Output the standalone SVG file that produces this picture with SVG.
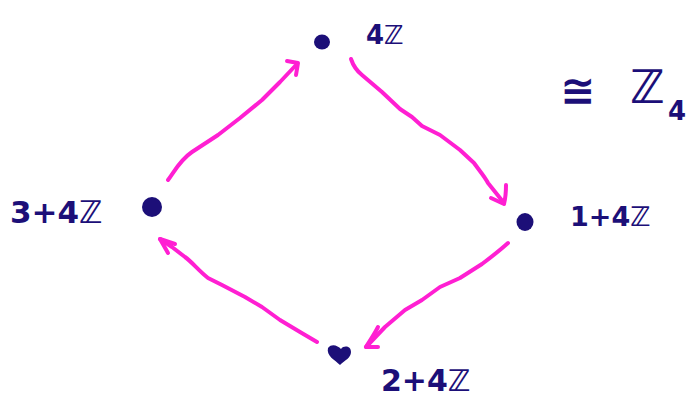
<svg xmlns="http://www.w3.org/2000/svg" width="695" height="398" viewBox="0 0 695 398">
<style>
.arr{fill:none;stroke:#ff1fd2;stroke-width:4;stroke-linecap:round;stroke-linejoin:round}
.dot{fill:#1c0f78}
.lbl{font-family:"DejaVu Sans","Liberation Sans",sans-serif;fill:#1c0f78;font-weight:bold}
</style>
<rect width="695" height="398" fill="#ffffff"/>
<g id="connectors">
<path class="arr" d="M168,180 C174,172 180,160 192,152 L218,135 L240,118 L262,100 L280,82 L297,64"/>
<path class="arr" d="M287,61 L298,63 L296,75"/>
<path class="arr" d="M351,59 C353,65 357,71 362,75 L382,92 L400,109 L412,117 L422,126 L440,135 L460,150 L474,163 C479,170 485,177 488,183 L504,203"/>
<path class="arr" d="M506,185 C506,195 505,200 504,204 L491,198"/>
<path class="arr" d="M508,243 C498,252 490,258 482,264 L460,278 L440,287 L422,300 L405,310 L385,327 L366,347"/>
<path class="arr" d="M378,327 C374,335 369,342 366,347 L378,347"/>
<path class="arr" d="M317,342 L300,332 L280,320 L262,307 L245,297 L222,285 L208,278 C198,270 192,262 185,257 L172,247 L160,239"/>
<path class="arr" d="M160,239 L168,253 M160,239 L175,244"/>
</g>
<g id="n0">
<ellipse class="dot" cx="322" cy="42" rx="8" ry="7.5"/>
<text class="lbl" x="366" y="44" font-size="26">4ℤ</text>
</g>
<g id="n1">
<ellipse class="dot" cx="525" cy="222" rx="8.5" ry="9"/>
<text class="lbl" x="570" y="226" font-size="27">1+4ℤ</text>
</g>
<g id="n2">
<path class="dot" d="M328,348 C332,343 338,346 341,349 C344,345 351,346 351,352 C351,358 345,360 340,365 C335,360 326,356 328,348 Z"/>
<text class="lbl" x="381" y="391" font-size="30">2+4ℤ</text>
</g>
<g id="n3">
<circle class="dot" cx="152" cy="207" r="10"/>
<text class="lbl" x="10" y="223" font-size="31">3+4ℤ</text>
</g>
<g id="iso">
<text class="lbl" x="560" y="105" font-size="42">≅</text>
<text class="lbl" x="630" y="103" font-size="46">ℤ</text>
<text class="lbl" x="668" y="120" font-size="26">4</text>
</g>
</svg>
